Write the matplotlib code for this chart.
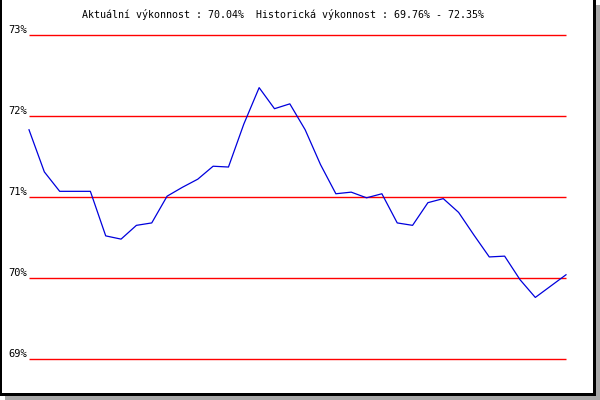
#!/usr/bin/env python3
"""Performance line chart with red reference lines and a framed, shadowed border."""

import matplotlib

matplotlib.use("Agg")
import matplotlib.pyplot as plt
from matplotlib.patches import Rectangle

# performance values (%), 36 samples
perf_values = [
    71.83, 71.31, 71.07, 71.07, 71.07, 70.52, 70.48, 70.65, 70.68, 71.01,
    71.12, 71.22, 71.38, 71.37, 71.90, 72.35, 72.09, 72.15, 71.83, 71.40,
    71.04, 71.06, 70.99, 71.04, 70.68, 70.65, 70.93, 70.98, 70.81, 70.53,
    70.26, 70.27, 69.98, 69.76, 69.90, 70.04,
]
grid_levels = [69, 70, 71, 72, 73]
grid_labels = ["69%", "70%", "71%", "72%", "73%"]
current_value = 70.04
hist_min = 69.76
hist_max = 72.35

W, H = 600, 400


def px_rect(fig, x0, y0, x1, y1, color):
    # rectangle given in pixel coords with y measured from the top
    fig.patches.append(
        Rectangle(
            (x0 / W, 1 - y1 / H), (x1 - x0) / W, (y1 - y0) / H,
            transform=fig.transFigure, color=color, lw=0, zorder=10,
        )
    )


fig = plt.figure(figsize=(6, 4), dpi=100)
fig.patch.set_facecolor("white")

ax = fig.add_axes([29 / W, 1 - 359 / H, (566 - 29) / W, (359 - 35) / H])
ax.set_xlim(0, len(perf_values) - 1)
ax.set_ylim(min(grid_levels), max(grid_levels))
ax.axis("off")

xs = list(range(len(perf_values)))
for lvl, lab in zip(grid_levels, grid_labels):
    ax.plot([0, len(perf_values) - 1], [lvl, lvl], color="#ff0000", lw=1.0,
            solid_capstyle="butt", clip_on=False)
    ax.annotate(lab, (0, lvl), xytext=(-2, 2), textcoords="offset pixels",
                ha="right", va="baseline", fontsize=7.5,
                family="DejaVu Sans Mono", annotation_clip=False)

ax.plot(xs, perf_values, color="#0000dd", lw=0.9, clip_on=False, zorder=3)

title = (f"Aktuální výkonnost : {current_value:.2f}%  "
         f"Historická výkonnost : {hist_min:.2f}% - {hist_max:.2f}%")
fig.text(283 / W, 1 - 14 / H, title, ha="center", va="center",
         fontsize=7.2, family="DejaVu Sans Mono")

# border and drop shadow
px_rect(fig, 0, 0, 2, 396, "black")
px_rect(fig, 593, 0, 596, 396, "black")
px_rect(fig, 0, 393, 596, 396, "black")
px_rect(fig, 596, 5, 600, 400, "#a8a8a8")
px_rect(fig, 5, 396, 600, 400, "#a8a8a8")

fig.savefig("out.png", dpi=100)
